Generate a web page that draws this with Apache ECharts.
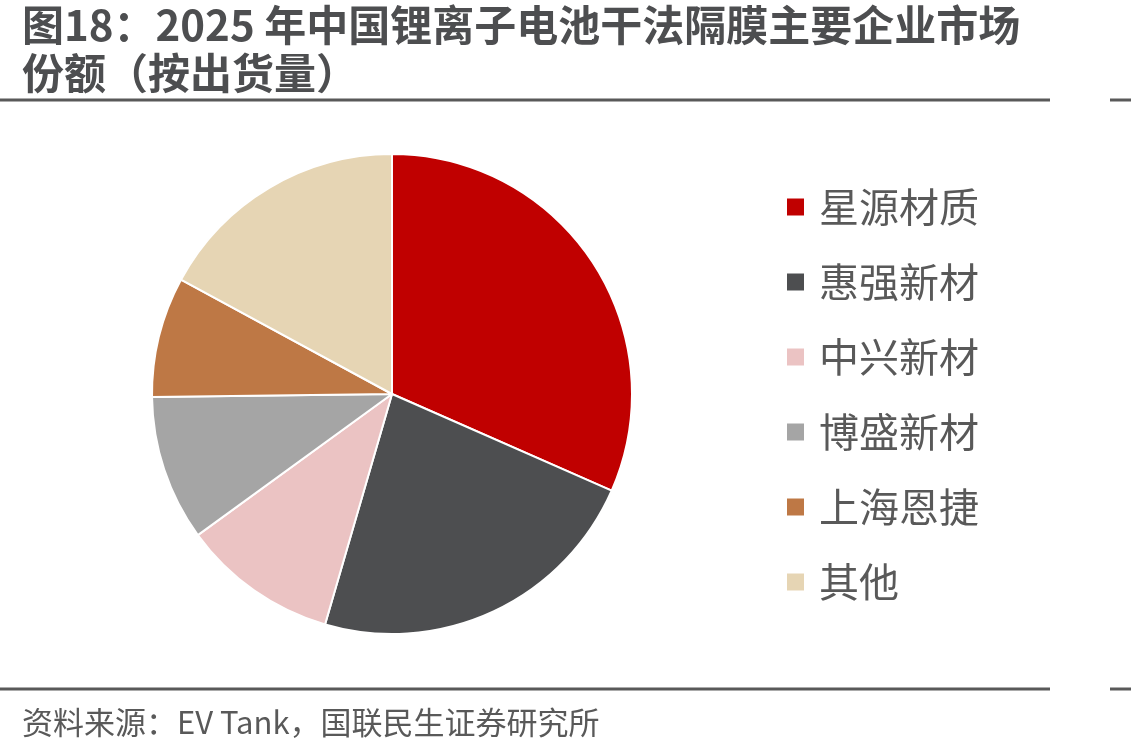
<!DOCTYPE html>
<html><head><meta charset="utf-8">
<script src="https://cdn.jsdelivr.net/npm/echarts@6/dist/echarts.min.js"></script>
<style>html,body{margin:0;padding:0;background:#fff}#c{width:1131px;height:750px}</style>
</head><body><div id="c"></div>
<script>
const categories = ['星源材质','惠强新材','中兴新材','博盛新材','上海恩捷','其他'];
const shares = [31.6, 22.9, 10.5, 9.8, 8.1, 17.1];
const colors = ['#C00000','#4D4E50','#EBC3C3','#A5A5A5','#BE7845','#E6D5B4'];
const titleText = '图18：2025 年中国锂离子电池干法隔膜主要企业市场\n份额（按出货量）';
const sourceText = '资料来源：EV Tank，国联民生证券研究所';

const chart = echarts.init(document.getElementById('c'));
chart.setOption({
  animation: false,
  backgroundColor: '#fff',
  title: [{
    text: titleText, left: 17, top: -4,
    textStyle: {fontFamily: 'Noto Sans CJK SC', fontWeight: 'bold', fontSize: 42, lineHeight: 48, color: '#4D4E50'}
  }, {
    text: sourceText, left: 17, top: 697,
    textStyle: {fontFamily: 'Noto Sans CJK SC', fontWeight: 'normal', fontSize: 31, lineHeight: 40, color: '#595959'}
  }],
  legend: {
    orient: 'vertical', left: 780, top: 182,
    itemWidth: 19, itemHeight: 19, itemGap: 35,
    icon: 'rect',
    textStyle: {fontFamily: 'Noto Sans CJK SC', fontSize: 40, lineHeight: 40, color: '#595959', padding: [0,0,0,9]},
    data: categories
  },
  graphic: [
    {type: 'line', shape: {x1: 0, y1: 100, x2: 1050, y2: 100}, style: {stroke: '#595959', lineWidth: 3}},
    {type: 'line', shape: {x1: 1110, y1: 100, x2: 1131, y2: 100}, style: {stroke: '#595959', lineWidth: 3}},
    {type: 'line', shape: {x1: 0, y1: 689, x2: 1050, y2: 689}, style: {stroke: '#595959', lineWidth: 3}},
    {type: 'line', shape: {x1: 1110, y1: 689, x2: 1131, y2: 689}, style: {stroke: '#595959', lineWidth: 3}}
  ],
  series: [{
    type: 'pie',
    center: [392, 394], radius: 240,
    startAngle: 90, clockwise: true,
    label: {show: false}, labelLine: {show: false},
    emphasis: {disabled: true},
    itemStyle: {borderColor: '#fff', borderWidth: 2},
    data: categories.map((n, i) => ({name: n, value: shares[i], itemStyle: {color: colors[i]}}))
  }]
});
</script></body></html>
